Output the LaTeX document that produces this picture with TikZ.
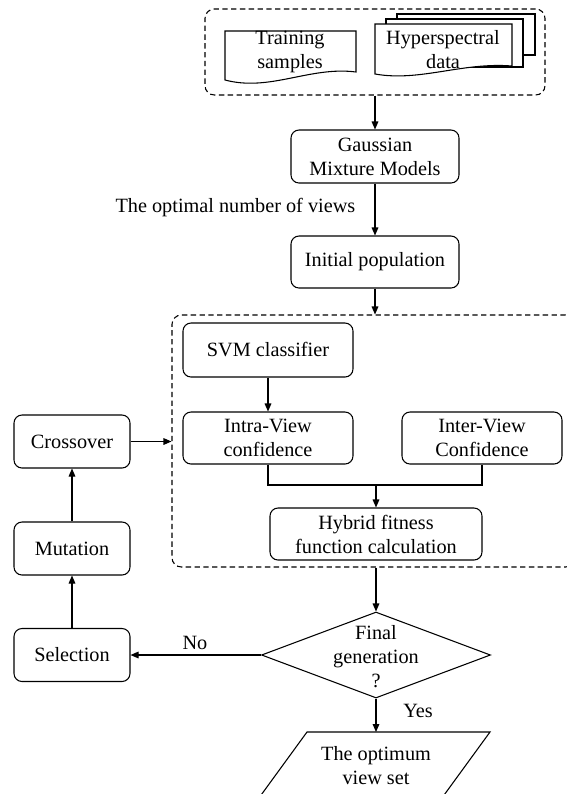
\documentclass[tikz,border=0pt]{standalone}
\usepackage{fontspec}
\setmainfont{Liberation Serif}
\usetikzlibrary{arrows.meta,shapes.geometric}
\begin{document}
\begin{tikzpicture}[x=0.75pt,y=-0.75pt,
  every node/.style={font=\fontsize{15.2}{18}\selectfont, align=center},
  box/.style={draw, rounded corners=6pt, line width=0.8pt, inner sep=0pt},
  dbox/.style={draw, dash pattern=on 4pt off 2.6pt, rounded corners=7pt, line width=0.8pt, inner sep=0pt},
  arr/.style={-{Triangle[length=6pt,width=5pt]}, line width=0.8pt},
  ln/.style={line width=0.8pt}]
\clip (0,0) rectangle (567,794);
\useasboundingbox (0,0) rectangle (567,794);

% top group
\node[dbox, minimum width=255pt, minimum height=64.5pt] (top) at (375,52) {};
\draw[ln] (225,31) -- (356,31) -- (356,72) .. controls (310,66) and (270,92) .. (225,80) -- cycle;
\node (train) at (290,52) {Training\\samples};
\draw[ln, fill=white] (397,14) rectangle (535,55);
\draw[ln, fill=white] (386,19) rectangle (523,67);
\draw[ln, fill=white] (375,24) -- (512,24) -- (512,66) .. controls (462,62) and (420,82) .. (375,74) -- cycle;
\node (hyper) at (443,50) {Hyperspectral\\data};

% main chain
\node[box, minimum width=126pt, minimum height=39.75pt] (gmm) at (375,156.5) {Gaussian\\Mixture Models};
\node[box, minimum width=126pt, minimum height=39pt] (init) at (375,262) {Initial population};
\node[anchor=east] (lab) at (360,208) {The optimal number of views};

% big dashed group
\node[dbox, minimum width=302.25pt, minimum height=189pt] (big) at (373.5,441) {};
\node[box, minimum width=127.5pt, minimum height=40.5pt] (svm) at (268,350) {SVM classifier};
\node[box, minimum width=127.5pt, minimum height=39pt] (intra) at (268,438) {Intra-View\\confidence};
\node[box, minimum width=120pt, minimum height=39pt] (inter) at (482,438) {Inter-View\\Confidence};
\node[box, minimum width=159pt, minimum height=39pt] (hyb) at (376,534) {Hybrid fitness\\function calculation};
\coordinate (j) at (376,485);

% decision
\node[draw, diamond, line width=0.8pt, minimum width=171.75pt, minimum height=64.5pt, inner sep=0pt] (dia) at (376,655) {};
\node (dtext) at (376,657) {Final\\generation\\?};
\node (yes) at (418,711) {Yes};
\node (no) at (195,643) {No};

% output
\draw[ln] (307,732) -- (490,732) -- (439,802) -- (256,802) -- cycle;
\coordinate (ptop) at (376,732);
\node (opt) at (376,766) {The optimum\\view set};

% GA loop
\node[box, minimum width=87pt, minimum height=39.75pt] (cross) at (72,441.5) {Crossover};
\node[box, minimum width=87pt, minimum height=39.75pt] (mut) at (72,548.5) {Mutation};
\node[box, minimum width=87pt, minimum height=39.75pt] (sel) at (72,655) {Selection};

% connectors
\draw[arr] (top.south) -- (gmm.north);
\draw[arr] (gmm.south) -- (init.north);
\draw[arr] (init.south) -- (init.south |- big.north);
\draw[arr] (svm.south) -- (intra.north);
\draw[ln] (intra.south) |- (j) -| (inter.south);
\draw[arr] (j) -- (hyb.north);
\draw[arr] (dia.north |- big.south) -- (dia.north);
\draw[arr] (dia.south) -- (ptop);
\draw[arr] (dia.west) -- (sel.east);
\draw[arr] (sel.north) -- (mut.south);
\draw[arr] (mut.north) -- (cross.south);
\draw[arr] (cross.east) -- (cross.east -| big.west);
\end{tikzpicture}
\end{document}
